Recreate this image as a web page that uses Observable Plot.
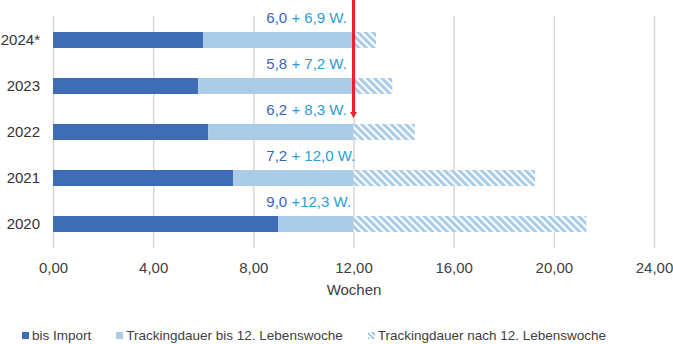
<!DOCTYPE html>
<html><head><meta charset="utf-8">
<script src="https://cdn.jsdelivr.net/npm/d3@7"></script>
<script src="https://cdn.jsdelivr.net/npm/@observablehq/plot@0.6"></script>
<style>
body{margin:0;background:#fff;font-family:"Liberation Sans",Arial,sans-serif;}
#legend{display:flex;align-items:center;margin-top:25px;padding-left:22px;font-size:13.5px;color:#404040;height:20px;white-space:nowrap;}
.item{display:flex;align-items:center;margin-right:25px}
.sw{width:7px;height:7px;margin-right:3px;flex:none}
</style></head><body><div id="chart"></div><div id="legend"></div>
<script>
// ---- data ----
const years = ["2024*", "2023", "2022", "2021", "2020"];
const seriesNames = ["bis Import", "Trackingdauer bis 12. Lebenswoche", "Trackingdauer nach 12. Lebenswoche"];
const importWeeks = [6.0, 5.8, 6.2, 7.2, 9.0];
const trackingTo12 = [6.0, 6.2, 5.8, 4.8, 3.0];
const trackingAfter12 = [0.9, 1.55, 2.45, 7.25, 9.3];
const labelImport = ["6,0", "5,8", "6,2", "7,2", "9,0"];
const labelTracking = ["+ 6,9 W.", "+ 7,2 W.", "+ 8,3 W.", "+ 12,0 W.", "+12,3 W."];
const xTicks = [0, 4, 8, 12, 16, 20, 24];
const xLabel = "Wochen";
const threshold = 12;
const arrowTarget = "2022";

// ---- styles ----
const dark = "#3e6db5", light = "#abcce6", red = "#e8242b";
const c1 = "#3a66b3", c2 = "#2a9dd8";
const barInset = 15;

const data = years.map((year, i) => ({
  year,
  a0: 0, a1: importWeeks[i],
  b0: importWeeks[i], b1: importWeeks[i] + trackingTo12[i],
  c0: importWeeks[i] + trackingTo12[i], c1: importWeeks[i] + trackingTo12[i] + trackingAfter12[i],
  label: labelImport[i] + " " + labelTracking[i]
}));

const svg = Plot.plot({
  width: 673, height: 300,
  marginLeft: 53, marginRight: 19, marginTop: 15.75, marginBottom: 51.75,
  style: {fontFamily: "'Liberation Sans', Arial, sans-serif", fontSize: "15px", color: "#404040", background: "#fff"},
  x: {domain: [0, 24]},
  y: {domain: years, paddingInner: 0, paddingOuter: 0},
  marks: [
    Plot.ruleX(xTicks, {stroke: "#d6d6d6", strokeWidth: 1.5}),
    Plot.barX(data, {y: "year", x1: "a0", x2: "a1", fill: dark, insetTop: barInset, insetBottom: barInset}),
    Plot.barX(data, {y: "year", x1: "b0", x2: "b1", fill: light, insetTop: barInset, insetBottom: barInset}),
    Plot.barX(data, {y: "year", x1: "c0", x2: "c1", fill: "url(#hatch)", insetTop: barInset, insetBottom: barInset}),
    Plot.text(data, {y: "year", x: () => 8.5, text: "label", textAnchor: "start", dy: -22, fontSize: 15, fill: c2}),
    Plot.axisX(xTicks, {tickSize: 0, tickPadding: 14, fontSize: 15, label: null, color: "#404040",
      tickFormat: d => d.toFixed(2).replace(".", ",")}),
    Plot.axisY({tickSize: 0, tickPadding: 13.5, fontSize: 15, label: null, color: "#333"}),
    Plot.text([xLabel], {frameAnchor: "bottom", dy: 46, fontSize: 15, fill: "#404040"}),
    (index, scales) => {
      const x = scales.x(threshold);
      const yTip = scales.y(arrowTarget) + barInset - 6;
      const g = d3.create("svg:g");
      g.append("line").attr("x1", x).attr("x2", x).attr("y1", 0).attr("y2", yTip - 4)
        .attr("stroke", red).attr("stroke-width", 3);
      g.append("path").attr("d", `M${x - 3.5},${yTip - 6}L${x + 3.5},${yTip - 6}L${x},${yTip}Z`).attr("fill", red);
      return g.node();
    }
  ]
});

// hatch pattern
const defs = d3.select(svg).insert("defs", ":first-child");
const pat = defs.append("pattern").attr("id", "hatch").attr("patternUnits", "userSpaceOnUse")
  .attr("width", 5.2).attr("height", 5.2).attr("patternTransform", "rotate(-45)");
pat.append("rect").attr("width", 5.2).attr("height", 5.2).attr("fill", "#fff");
pat.append("rect").attr("width", 3.1).attr("height", 5.2).attr("fill", light);

// two-colour labels
svg.querySelectorAll('g[aria-label="text"] text').forEach(el => {
  const t = el.textContent;
  if (!t.includes("W.")) return;
  const k = t.indexOf(" ");
  el.textContent = "";
  const ns = "http://www.w3.org/2000/svg";
  const a = document.createElementNS(ns, "tspan");
  a.setAttribute("fill", c1); a.textContent = t.slice(0, k);
  const b = document.createElementNS(ns, "tspan");
  b.setAttribute("fill", c2); b.textContent = t.slice(k);
  el.appendChild(a); el.appendChild(b);
});
document.getElementById("chart").appendChild(svg);

// legend
const swatchStyles = [
  `background:${dark}`,
  `background:${light}`,
  `background:repeating-linear-gradient(45deg, ${light} 0 2px, #fff 2px 3.3px)`
];
const legend = document.getElementById("legend");
seriesNames.forEach((name, i) => {
  const item = document.createElement("div");
  item.className = "item";
  item.innerHTML = `<span class="sw" style="${swatchStyles[i]}"></span><span>${name}</span>`;
  legend.appendChild(item);
});
</script>
</body></html>
